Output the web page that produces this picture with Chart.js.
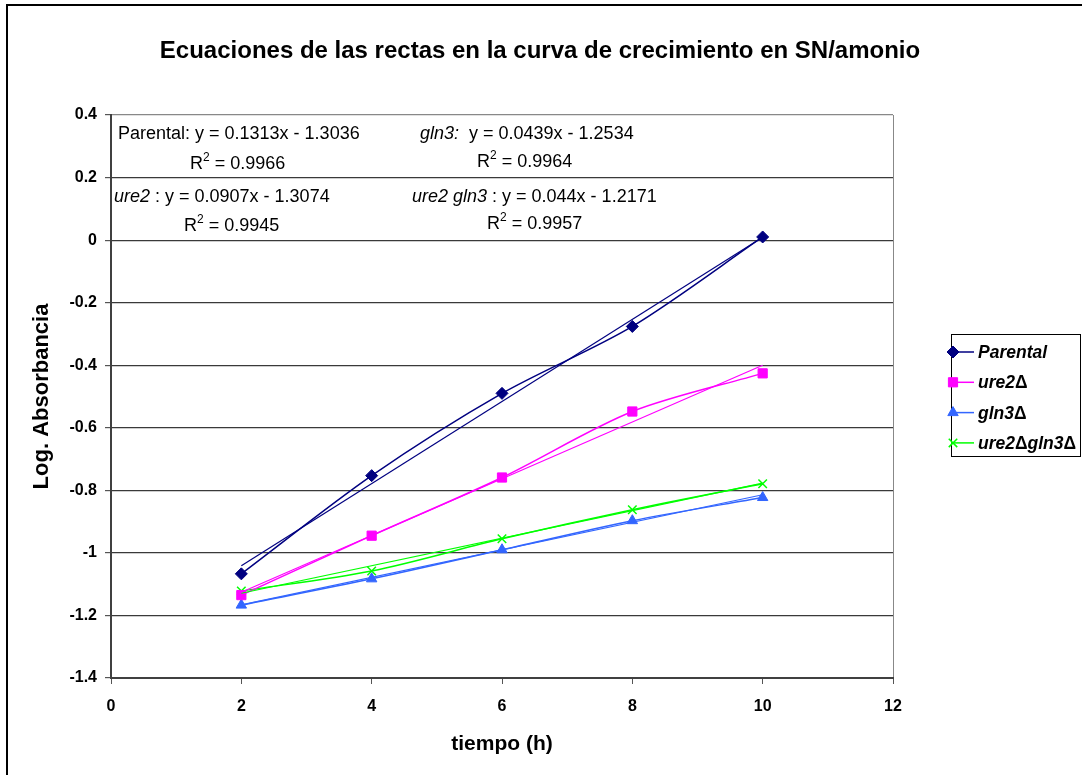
<!DOCTYPE html>
<html>
<head>
<meta charset="utf-8">
<script src="https://cdn.jsdelivr.net/npm/chart.js@4"></script>
<style>
  body { margin: 0; background: #fff; }
  canvas { display: block; }
</style>
</head>
<body>
<canvas id="grafico" width="1082" height="775"></canvas>
<script>
// datos
const tiempo = [2, 4, 6, 8, 10];
const parental = [-1.067, -0.753, -0.490, -0.276, 0.010];
const ure2 = [-1.135, -0.945, -0.759, -0.548, -0.426];
const gln3 = [-1.167, -1.083, -0.990, -0.897, -0.823];
const ure2gln3 = [-1.122, -1.058, -0.955, -0.862, -0.779];

// rectas de tendencia (extremos en x = 2 y x = 10)
const trendX = [2, 10];
const trendParental = [-1.041, 0.009];
const trendUre2 = [-1.126, -0.400];
const trendGln3 = [-1.166, -0.814];
const trendUre2Gln3 = [-1.129, -0.777];

const yTicks = [0.4, 0.2, 0, -0.2, -0.4, -0.6, -0.8, -1, -1.2, -1.4];
const xTicks = [0, 2, 4, 6, 8, 10, 12];

const titulo = 'Ecuaciones de las rectas en la curva de crecimiento en SN/amonio';

// textos de las ecuaciones
const ecuaciones = [
    { x: 118, y: 139, runs: [{ t: 'Parental: y = 0.1313x - 1.3036' }] },
    { x: 190, y: 169, runs: [{ t: 'R' }, { t: '2', sup: true }, { t: ' = 0.9966' }] },
    { x: 420, y: 139, runs: [{ t: 'gln3:', it: true }, { t: '  y = 0.0439x - 1.2534' }] },
    { x: 477, y: 167, runs: [{ t: 'R' }, { t: '2', sup: true }, { t: ' = 0.9964' }] },
    { x: 114, y: 202, runs: [{ t: 'ure2', it: true }, { t: ' : y = 0.0907x - 1.3074' }] },
    { x: 184, y: 231, runs: [{ t: 'R' }, { t: '2', sup: true }, { t: ' = 0.9945' }] },
    { x: 412, y: 202, runs: [{ t: 'ure2 gln3', it: true }, { t: ' : y = 0.044x - 1.2171' }] },
    { x: 487, y: 229, runs: [{ t: 'R' }, { t: '2', sup: true }, { t: ' = 0.9957' }] }
];

const nombres = [
    [{ t: 'Parental', it: true }],
    [{ t: 'ure2', it: true }, { t: 'Δ' }],
    [{ t: 'gln3', it: true }, { t: 'Δ' }],
    [{ t: 'ure2', it: true }, { t: 'Δ' }, { t: 'gln3', it: true }, { t: 'Δ' }]
];

const FUENTE = 'Arial, "Liberation Sans", sans-serif';

function puntos(xs, ys) {
    return xs.map((x, i) => ({ x: x, y: ys[i] }));
}

function serie(ys, color, estilo, radio) {
    return {
        data: puntos(tiempo, ys),
        showLine: true,
        borderColor: color,
        backgroundColor: color,
        borderWidth: 1.5,
        tension: 0.3,
        pointStyle: estilo,
        pointRadius: radio,
        pointBackgroundColor: color,
        pointBorderColor: color,
        pointBorderWidth: estilo === 'crossRot' ? 1.5 : 1,
        esSerie: true
    };
}

function tendencia(ys, color) {
    return {
        data: puntos(trendX, ys),
        showLine: true,
        borderColor: color,
        borderWidth: 1.2,
        pointRadius: 0,
        tension: 0
    };
}

function dibujarTexto(ctx, x, y, runs, tam, negrita) {
    let cx = x;
    const peso = negrita ? 'bold ' : '';
    runs.forEach(r => {
        if (r.sup) {
            ctx.font = peso + Math.round(tam * 0.65) + 'px ' + FUENTE;
            ctx.fillText(r.t, cx, y - tam * 0.45);
        } else {
            ctx.font = (r.it ? 'italic ' : '') + peso + tam + 'px ' + FUENTE;
            ctx.fillText(r.t, cx, y);
        }
        cx += ctx.measureText(r.t).width;
    });
}

const decoracion = {
    id: 'decoracion',
    beforeDraw(chart) {
        const ctx = chart.ctx;
        ctx.save();
        ctx.fillStyle = '#fff';
        ctx.fillRect(0, 0, chart.width, chart.height);
        ctx.strokeStyle = '#000';
        ctx.lineWidth = 2;
        ctx.strokeRect(7, 5, 2000, 2000);
        ctx.restore();
    },
    afterDraw(chart) {
        const ctx = chart.ctx;
        ctx.save();
        ctx.fillStyle = '#000';
        ctx.textBaseline = 'alphabetic';

        // titulo
        ctx.font = 'bold 24px ' + FUENTE;
        ctx.textAlign = 'center';
        ctx.fillText(titulo, 540, 58);
        ctx.textAlign = 'left';

        // ecuaciones
        ecuaciones.forEach(e => dibujarTexto(ctx, e.x, e.y, e.runs, 18, false));

        // leyenda
        ctx.strokeStyle = '#000';
        ctx.lineWidth = 1;
        ctx.strokeRect(951.5, 334.5, 129, 122);
        const series = chart.data.datasets.filter(d => d.esSerie);
        series.forEach((d, i) => {
            const y = 352 + i * 30.3;
            ctx.strokeStyle = d.borderColor;
            ctx.lineWidth = 1.5;
            ctx.beginPath();
            ctx.moveTo(951, y);
            ctx.lineTo(974, y);
            ctx.stroke();
            ctx.fillStyle = d.pointBackgroundColor;
            ctx.strokeStyle = d.pointBorderColor;
            ctx.lineWidth = d.pointBorderWidth;
            Chart.helpers.drawPoint(ctx, {
                pointStyle: d.pointStyle,
                radius: d.pointRadius,
                borderWidth: d.pointBorderWidth,
                rotation: 0
            }, 953, y);
            ctx.fillStyle = '#000';
            dibujarTexto(ctx, 978, y + 6, nombres[i], 17.5, true);
        });
        ctx.restore();
    }
};

new Chart(document.getElementById('grafico'), {
    type: 'scatter',
    data: {
        datasets: [
            tendencia(trendParental, '#000080'),
            tendencia(trendUre2, '#FF00FF'),
            tendencia(trendGln3, '#3366FF'),
            tendencia(trendUre2Gln3, '#00FF00'),
            serie(parental, '#000080', 'rectRot', 6),
            serie(ure2, '#FF00FF', 'rect', 6.5),
            serie(gln3, '#3366FF', 'triangle', 6),
            serie(ure2gln3, '#00FF00', 'crossRot', 6)
        ]
    },
    options: {
        responsive: false,
        animation: false,
        layout: { padding: { left: 0, top: 115, right: 189, bottom: 0 } },
        plugins: {
            legend: { display: false },
            title: { display: false },
            tooltip: { enabled: false }
        },
        scales: {
            x: {
                type: 'linear',
                min: 0,
                max: 12,
                afterBuildTicks: s => { s.ticks = xTicks.map(v => ({ value: v })); },
                afterFit: s => { s.height = 97; },
                ticks: {
                    color: '#000',
                    padding: 13,
                    font: { family: FUENTE, size: 16, weight: 'bold' },
                    callback: v => String(v)
                },
                grid: {
                    drawOnChartArea: true,
                    drawTicks: true,
                    tickLength: 6,
                    color: c => (c.tick && c.tick.value === 12 ? '#888' : 'rgba(0,0,0,0)'),
                    tickColor: '#555'
                },
                border: { color: '#404040', width: 2 },
                title: {
                    display: true,
                    text: 'tiempo (h)',
                    color: '#000',
                    font: { family: FUENTE, size: 21, weight: 'bold' },
                    padding: { top: 0, bottom: 18 }
                }
            },
            y: {
                min: -1.4,
                max: 0.4,
                afterBuildTicks: s => { s.ticks = yTicks.map(v => ({ value: v })); },
                afterFit: s => { s.width = 111; },
                ticks: {
                    color: '#000',
                    padding: 8,
                    font: { family: FUENTE, size: 16, weight: 'bold' },
                    callback: v => String(Math.round(v * 10) / 10)
                },
                grid: {
                    drawTicks: true,
                    tickLength: 6,
                    color: c => (c.tick && Math.abs(c.tick.value - 0.4) < 1e-9 ? '#888' : '#3a3a3a'),
                    tickColor: '#555',
                    lineWidth: 1.2
                },
                border: { color: '#404040', width: 2 },
                title: {
                    display: true,
                    text: 'Log. Absorbancia',
                    color: '#000',
                    font: { family: FUENTE, size: 22, weight: 'bold' },
                    padding: { top: 29, bottom: 0 }
                }
            }
        }
    },
    plugins: [decoracion]
});
</script>
</body>
</html>
